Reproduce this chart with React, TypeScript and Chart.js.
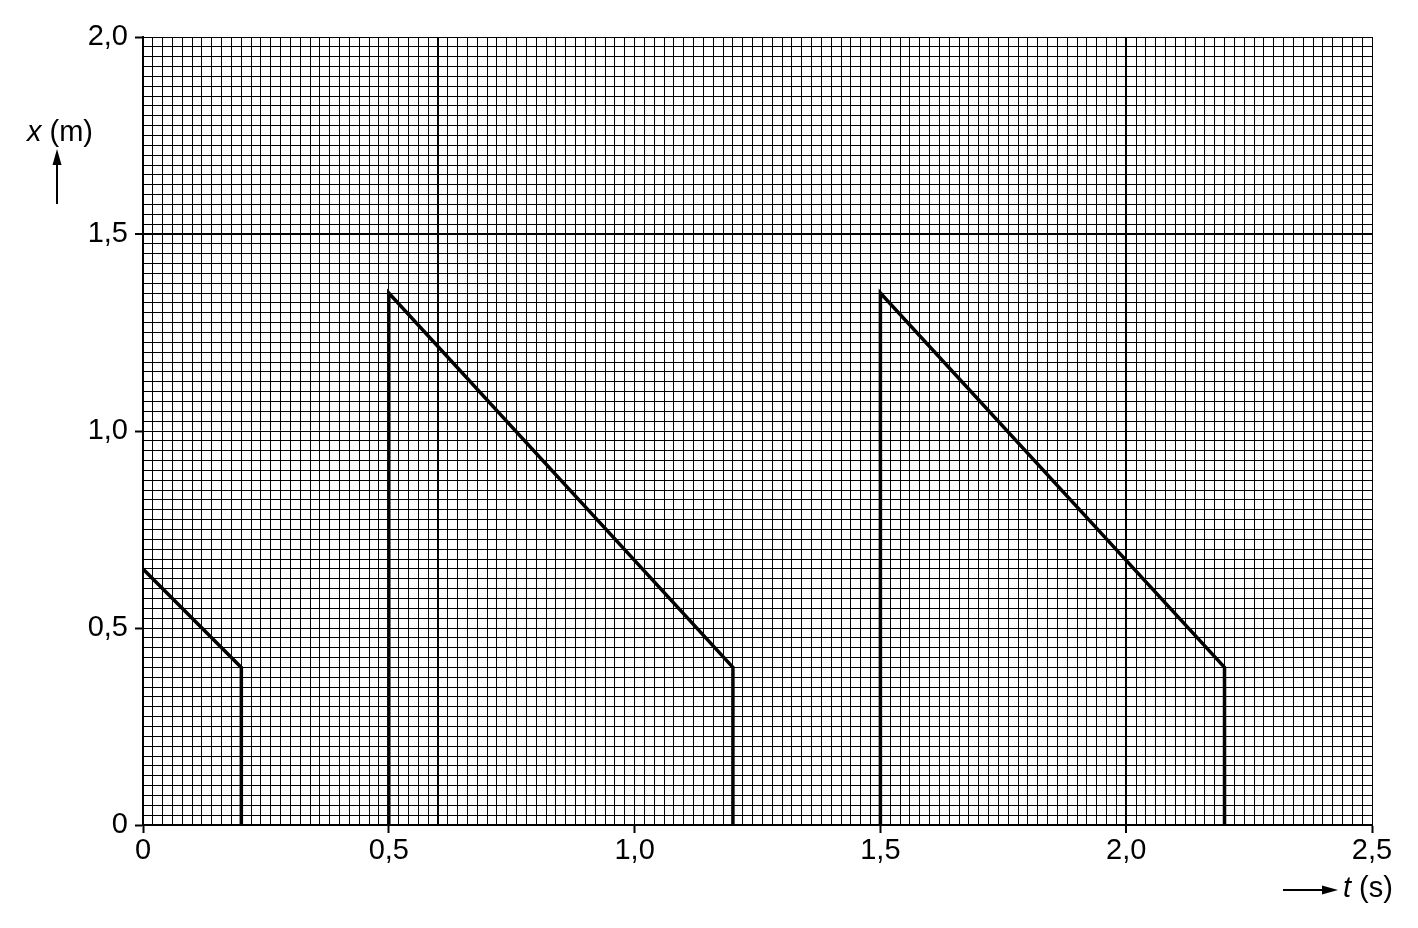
import React, {useEffect, useRef} from "react";
import {Chart, registerables} from "chart.js";

Chart.register(...registerables);

// sawtooth x(t) segments
const seg1T = [0, 0.2, 0.2];
const seg1X = [0.65, 0.4, 0];
const seg2T = [0.5, 0.5, 1.2, 1.2];
const seg2X = [0, 1.35, 0.4, 0];
const seg3T = [1.5, 1.5, 2.2, 2.2];
const seg3X = [0, 1.35, 0.4, 0];

const tRange = [0, 2.5];
const xRange = [0, 2.0];
const tMinor = 0.02;
const xMinor = 0.025;
const labelStep = 0.5;
// heavier lines drawn across the paper
const tHeavy = [0.6, 2.0];
const xHeavy = [1.5];

const FONT = '"Liberation Sans", Arial, sans-serif';
const FONT_SIZE = 29;

const near = (a: number, b: number) => Math.abs(a - b) < 1e-6;
const isMajor = (v: number) => near(v / labelStep, Math.round(v / labelStep));
const fmt = (v: number) => (near(v, 0) ? "0" : v.toFixed(1).replace(".", ","));

const toPoints = (ts: number[], xs: number[]) => ts.map((t, i) => ({x: t, y: xs[i]}));

const axisTitles = {
    id: "axisTitles",
    afterDraw(chart: Chart) {
        const ctx = chart.ctx;
        const {left, bottom, right} = chart.chartArea;
        ctx.save();
        ctx.fillStyle = "#000";
        ctx.strokeStyle = "#000";
        ctx.lineWidth = 2;
        ctx.textBaseline = "alphabetic";

        // x (m) with upward arrow
        const ax = left - 86;
        ctx.beginPath();
        ctx.moveTo(ax, 204);
        ctx.lineTo(ax, 160);
        ctx.stroke();
        ctx.beginPath();
        ctx.moveTo(ax, 149);
        ctx.lineTo(ax - 4.5, 165);
        ctx.lineTo(ax + 4.5, 165);
        ctx.closePath();
        ctx.fill();
        ctx.font = `italic ${FONT_SIZE}px ${FONT}`;
        ctx.fillText("x", left - 116, 141);
        const wx = ctx.measureText("x ").width;
        ctx.font = `${FONT_SIZE}px ${FONT}`;
        ctx.fillText("(m)", left - 116 + wx, 141);

        // t (s) with rightward arrow
        const ay = bottom + 65;
        ctx.beginPath();
        ctx.moveTo(right - 89, ay);
        ctx.lineTo(right - 46, ay);
        ctx.stroke();
        ctx.beginPath();
        ctx.moveTo(right - 34, ay);
        ctx.lineTo(right - 50, ay - 4.5);
        ctx.lineTo(right - 50, ay + 4.5);
        ctx.closePath();
        ctx.fill();
        ctx.font = `italic ${FONT_SIZE}px ${FONT}`;
        ctx.fillText("t", right - 29, bottom + 72);
        const wt = ctx.measureText("t ").width;
        ctx.font = `${FONT_SIZE}px ${FONT}`;
        ctx.fillText("(s)", right - 29 + wt, bottom + 72);
        ctx.restore();
    },
};

const App: React.FC = () => {
    const canvasRef = useRef<HTMLCanvasElement>(null);

    useEffect(() => {
        if (!canvasRef.current) return;
        const ctx = canvasRef.current.getContext("2d");
        if (!ctx) return;

        const lineStyle = {
            borderColor: "#000",
            borderWidth: 3.5,
            pointRadius: 0,
            showLine: true,
            fill: false,
            tension: 0,
            borderJoinStyle: "miter" as const,
        };

        const chart = new Chart(ctx, {
            type: "scatter",
            data: {
                datasets: [
                    {data: toPoints(seg1T, seg1X), ...lineStyle},
                    {data: toPoints(seg2T, seg2X), ...lineStyle},
                    {data: toPoints(seg3T, seg3X), ...lineStyle},
                ],
            },
            options: {
                responsive: false,
                animation: false,
                layout: {padding: {top: 37, right: 46, left: 0, bottom: 0}},
                plugins: {
                    legend: {display: false},
                    tooltip: {enabled: false},
                },
                scales: {
                    x: {
                        type: "linear",
                        min: tRange[0],
                        max: tRange[1],
                        afterFit: (scale: any) => {
                            scale.height = 103;
                        },
                        border: {display: true, color: "#000", width: 2},
                        grid: {
                            color: "#000",
                            lineWidth: (c: any) => (tHeavy.some((v) => near(v, c.tick?.value)) ? 2 : 1),
                            tickColor: (c: any) => (c.tick && isMajor(c.tick.value) ? "#000" : "rgba(0,0,0,0)"),
                            tickWidth: 2,
                            tickLength: 8,
                        },
                        ticks: {
                            stepSize: tMinor,
                            autoSkip: false,
                            maxRotation: 0,
                            padding: 1,
                            color: "#000",
                            font: {family: FONT, size: FONT_SIZE},
                            callback: (v: any) => (isMajor(Number(v)) ? fmt(Number(v)) : ""),
                        },
                    },
                    y: {
                        type: "linear",
                        min: xRange[0],
                        max: xRange[1],
                        afterFit: (scale: any) => {
                            scale.width = 143;
                        },
                        border: {display: true, color: "#000", width: 2},
                        grid: {
                            color: "#000",
                            lineWidth: (c: any) => (xHeavy.some((v) => near(v, c.tick?.value)) ? 2 : 1),
                            tickColor: (c: any) => (c.tick && isMajor(c.tick.value) ? "#000" : "rgba(0,0,0,0)"),
                            tickWidth: 2,
                            tickLength: 8,
                        },
                        ticks: {
                            stepSize: xMinor,
                            autoSkip: false,
                            padding: 7,
                            color: "#000",
                            font: {family: FONT, size: FONT_SIZE},
                            callback: (v: any) => (isMajor(Number(v)) ? fmt(Number(v)) : ""),
                        },
                    },
                },
            },
            plugins: [axisTitles],
        });

        return () => {
            chart.destroy();
        };
    }, []);

    return (
        <canvas
            ref={canvasRef}
            width={1418}
            height={928}
            style={{position: "absolute", left: 0, top: 0, display: "block", background: "#fff"}}
        ></canvas>
    );
};

export default App;
